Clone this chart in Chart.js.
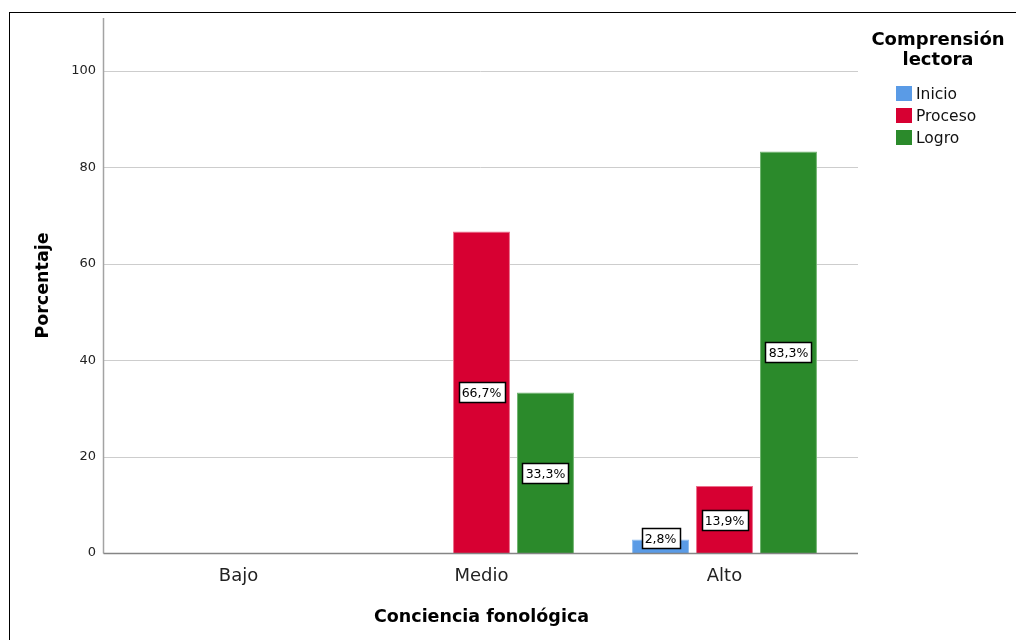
<!DOCTYPE html>
<html>
<head>
<meta charset="utf-8">
<script src="https://cdn.jsdelivr.net/npm/chart.js@4.4.0/dist/chart.umd.min.js"></script>
<style>
  html, body { margin: 0; padding: 0; background: #fff; overflow: hidden; }
  #frame { position: absolute; left: 9px; top: 12px; width: 1100px; height: 700px; border: 1px solid #000; }
  #wrap { position: absolute; left: 0; top: 0; width: 1016px; height: 640px; }
</style>
</head>
<body>
<div id="frame"></div>
<div id="wrap"><canvas id="chart" width="1016" height="640"></canvas></div>
<script>
// Chart data
const categories = ['Bajo', 'Medio', 'Alto'];
const seriesNames = ['Inicio', 'Proceso', 'Logro'];
const inicioValues = [0, 0, 2.8];
const procesoValues = [0, 66.7, 13.9];
const logroValues = [0, 33.3, 83.3];
const yTicks = [0, 20, 40, 60, 80, 100];

const FONT = '"DejaVu Sans", "Liberation Sans", Arial, sans-serif';
const fills = ['#5a9be6', '#d70032', '#2b8a2b'];
const borders = ['#8dbcf0', '#ec6f8c', '#6fb46f'];

// Axis lines and gridlines drawn a bit wider than the category area (SPSS style)
const axisPlugin = {
  id: 'spssAxes',
  beforeDatasetsDraw(chart) {
    const { ctx, chartArea, scales } = chart;
    const left = chartArea.left - 14;
    const right = chartArea.right + 12;
    ctx.save();
    ctx.lineWidth = 1;
    ctx.strokeStyle = '#cdcdcd';
    yTicks.forEach(t => {
      if (t === 0) return;
      const y = Math.round(scales.y.getPixelForValue(t)) + 0.5;
      ctx.beginPath();
      ctx.moveTo(left, y);
      ctx.lineTo(right, y);
      ctx.stroke();
    });
    ctx.restore();
  },
  afterDatasetsDraw(chart) {
    const { ctx, chartArea, scales } = chart;
    const left = Math.round(chartArea.left - 14) + 0.5;
    const right = chartArea.right + 12;
    const base = Math.round(scales.y.getPixelForValue(0)) + 0.5;
    ctx.save();
    ctx.lineWidth = 1.5;
    ctx.strokeStyle = '#a3a3a3';
    ctx.beginPath();
    ctx.moveTo(left, chartArea.top);
    ctx.lineTo(left, base);
    ctx.stroke();
    ctx.strokeStyle = '#858585';
    ctx.beginPath();
    ctx.moveTo(left, base);
    ctx.lineTo(right, base);
    ctx.stroke();
    ctx.restore();
  }
};

// Boxed value labels in the middle of each bar
const labelPlugin = {
  id: 'boxLabels',
  afterDraw(chart) {
    const { ctx, scales } = chart;
    const base = scales.y.getPixelForValue(0);
    ctx.save();
    ctx.font = '12.5px ' + FONT;
    ctx.textAlign = 'center';
    ctx.textBaseline = 'middle';
    chart.data.datasets.forEach((ds, i) => {
      chart.getDatasetMeta(i).data.forEach((bar, j) => {
        const v = ds.data[j];
        if (!v) return;
        const txt = v.toFixed(1).replace('.', ',') + '%';
        const w = Math.round(ctx.measureText(txt).width) + 6;
        const h = 20;
        let cy = (bar.y + base) / 2;
        if (cy + h / 2 > base - 5) cy = base - 5 - h / 2;
        const x0 = Math.round(bar.x - w / 2) + 0.5;
        const y0 = Math.round(cy - h / 2) + 0.5;
        ctx.fillStyle = '#fff';
        ctx.fillRect(x0, y0, w, h);
        ctx.strokeStyle = '#000';
        ctx.lineWidth = 1.5;
        ctx.strokeRect(x0, y0, w, h);
        ctx.fillStyle = '#000';
        ctx.fillText(txt, bar.x, y0 + h / 2 + 1);
      });
    });
    ctx.restore();
  }
};

// Legend on the right with a two-line bold title
const legendPlugin = {
  id: 'sideLegend',
  afterDraw(chart) {
    const { ctx } = chart;
    ctx.save();
    ctx.fillStyle = '#000';
    ctx.textAlign = 'center';
    ctx.textBaseline = 'middle';
    ctx.font = 'bold 18px ' + FONT;
    ctx.fillText('Comprensión', 938, 40);
    ctx.fillText('lectora', 938, 60);
    ctx.font = '15.5px ' + FONT;
    ctx.textAlign = 'left';
    seriesNames.forEach((name, i) => {
      const y = 94 + i * 22;
      ctx.fillStyle = fills[i];
      ctx.fillRect(896, y - 8, 16, 15);
      ctx.fillStyle = '#111';
      ctx.fillText(name, 916, y + 1);
    });
    ctx.restore();
  }
};

const seriesData = [inicioValues, procesoValues, logroValues];

new Chart(document.getElementById('chart'), {
  type: 'bar',
  data: {
    labels: categories,
    datasets: seriesNames.map((name, i) => ({
      label: name,
      data: seriesData[i],
      backgroundColor: fills[i],
      borderColor: borders[i],
      borderWidth: 1,
      categoryPercentage: 0.79,
      barPercentage: 0.89
    }))
  },
  options: {
    responsive: false,
    animation: false,
    layout: { padding: { left: 0, top: 18, right: 170, bottom: 0 } },
    plugins: {
      legend: { display: false },
      tooltip: { enabled: false }
    },
    scales: {
      x: {
        grid: { display: false },
        border: { display: false },
        ticks: { color: '#222', font: { family: FONT, size: 18 }, padding: 5 },
        title: {
          display: true,
          text: 'Conciencia fonológica',
          color: '#000',
          font: { family: FONT, size: 17.5, weight: 'bold' },
          padding: { top: 0, bottom: 12 }
        },
        afterFit(scale) {
          scale.height = 87;
          scale.paddingLeft = 0;
          scale.paddingRight = 0;
        }
      },
      y: {
        min: 0,
        max: 111,
        grid: { display: false, drawTicks: false },
        border: { display: false },
        afterBuildTicks(scale) { scale.ticks = yTicks.map(v => ({ value: v })); },
        ticks: { color: '#222', font: { family: FONT, size: 13 }, padding: 21 },
        title: {
          display: true,
          text: 'Porcentaje',
          color: '#000',
          font: { family: FONT, size: 17.5, weight: 'bold' },
          padding: { top: 33, bottom: 0 }
        },
        afterFit(scale) {
          scale.width = 117;
          scale.paddingTop = 0;
          scale.paddingBottom = 0;
        }
      }
    }
  },
  plugins: [axisPlugin, labelPlugin, legendPlugin]
});
</script>
</body>
</html>
